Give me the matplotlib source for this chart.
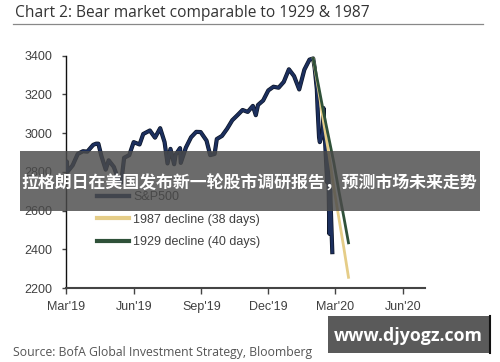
import matplotlib
matplotlib.use("Agg")
import matplotlib.pyplot as plt
import matplotlib.patheffects as pe
from matplotlib.patches import Rectangle
from matplotlib.lines import Line2D
import pandas as pd

# S&P 500 closes
spx_dates = [
    "2019-03-20", "2019-03-21", "2019-03-22", "2019-03-29", "2019-04-05", "2019-04-12",
    "2019-04-18", "2019-04-26", "2019-04-30", "2019-05-03", "2019-05-07", "2019-05-13",
    "2019-05-17", "2019-05-24", "2019-05-31", "2019-06-03", "2019-06-07", "2019-06-14",
    "2019-06-20", "2019-06-28", "2019-07-03", "2019-07-12", "2019-07-19", "2019-07-26",
    "2019-08-01", "2019-08-05", "2019-08-09", "2019-08-14", "2019-08-16", "2019-08-22",
    "2019-08-23", "2019-08-30", "2019-09-06", "2019-09-13", "2019-09-19", "2019-09-27",
    "2019-10-02", "2019-10-08", "2019-10-11", "2019-10-18", "2019-10-25", "2019-11-01",
    "2019-11-08", "2019-11-15", "2019-11-22", "2019-11-29", "2019-12-03", "2019-12-06",
    "2019-12-13", "2019-12-20", "2019-12-27", "2020-01-03", "2020-01-10", "2020-01-17",
    "2020-01-24", "2020-01-31", "2020-02-07", "2020-02-14", "2020-02-19", "2020-02-21",
    "2020-02-24", "2020-02-25", "2020-02-27", "2020-02-28", "2020-03-03", "2020-03-04",
    "2020-03-06", "2020-03-09", "2020-03-10", "2020-03-11", "2020-03-12", "2020-03-13",
    "2020-03-16",
]
spx_values = [
    2824, 2854, 2801, 2834, 2893, 2907,
    2905, 2940, 2946, 2946, 2884, 2812,
    2860, 2826, 2752, 2744, 2873, 2887,
    2954, 2942, 2996, 3014, 2977, 3026,
    2954, 2844, 2919, 2840, 2889, 2923,
    2847, 2926, 2979, 3007, 3006, 2962,
    2887, 2893, 2970, 2986, 3023, 3067,
    3093, 3120, 3110, 3141, 3093, 3146,
    3169, 3221, 3240, 3235, 3265, 3330,
    3295, 3226, 3328, 3380, 3386, 3338,
    3226, 3128, 2979, 2954, 3003, 3130,
    2972, 2747, 2882, 2741, 2481, 2711,
    2386,
]

# Historical declines overlaid from the Feb-2020 peak
decline_dates = ["2020-02-19", "2020-02-26", "2020-03-04", "2020-03-11",
                 "2020-03-18", "2020-03-25", "2020-04-01", "2020-04-07"]
decline_1987 = [3386, 3230, 3060, 2900, 2720, 2560, 2400, 2256]
decline_1929 = [3386, 3250, 3110, 2980, 2850, 2700, 2560, 2434]

tick_dates = ["2019-03-20", "2019-06-20", "2019-09-20", "2019-12-20", "2020-03-20", "2020-06-20"]
tick_labels = ["Mar'19", "Jun'19", "Sep'19", "Dec'19", "Mar'20", "Jun'20"]
y_ticks = [2200, 2400, 2600, 2800, 3000, 3200, 3400]

fig = plt.figure(figsize=(5, 3.62), dpi=100)
ax = fig.add_axes([0.132, 0.204, 0.718, 0.642])

navy = "#1c2f5e"
gold = "#e5cd88"
green = "#2f5139"

ax.plot(pd.to_datetime(spx_dates), spx_values, color=navy, lw=2.0,
        path_effects=[pe.Stroke(linewidth=3.0, foreground="#0d1626"), pe.Normal()],
        label="S&P500", zorder=3)
ax.plot(pd.to_datetime(decline_dates), decline_1987, color=gold, lw=2.0,
        label="1987 decline (38 days)", zorder=4)
ax.plot(pd.to_datetime(decline_dates), decline_1929, color=green, lw=2.0,
        label="1929 decline (40 days)", zorder=5)

ax.set_ylim(2200, 3400)
ax.set_xlim(pd.Timestamp("2019-03-20"), pd.Timestamp("2020-07-20"))
ax.set_yticks(y_ticks)
ax.set_xticks(pd.to_datetime(tick_dates))
ax.set_xticklabels(tick_labels)

for s in ["top", "right"]:
    ax.spines[s].set_visible(False)
ax.spines["left"].set_color("#111111")
ax.spines["left"].set_linewidth(1.0)
ax.spines["bottom"].set_color("#444444")
ax.spines["bottom"].set_linewidth(1.5)

ax.tick_params(axis="y", length=3, width=1, color="#444444", pad=7,
               labelsize=9, labelcolor="#404040")
ax.tick_params(axis="x", length=4, width=1, color="#444444", pad=5,
               labelsize=9, labelcolor="#404040")
for lab in ax.get_xticklabels() + ax.get_yticklabels():
    lab.set_fontfamily("Liberation Sans")

leg = ax.legend(loc="upper left", bbox_to_anchor=(0.086, 0.418), frameon=False,
                prop={"family": "Liberation Sans", "size": 9},
                handlelength=2.6, handletextpad=0.3, labelspacing=0.85,
                borderpad=0, borderaxespad=0)
for t in leg.get_texts():
    t.set_color("#404040")
for h in leg.get_lines():
    h.set_linewidth(3)

# title and rule
fig.text(0.03, 0.963, "Chart 2: Bear market comparable to 1929 & 1987",
         family="Open Sans", fontsize=11.2, color="#333333", va="center", ha="left")
fig.add_artist(Line2D([0.026, 0.966], [0.934, 0.934], transform=fig.transFigure,
                      color="#888888", lw=0.9))

fig.text(0.026, 0.027, "Source: BofA Global Investment Strategy, Bloomberg",
         family="Open Sans", fontsize=8.8, color="#555555", va="center", ha="left")

# watermark banner over the chart
fig.add_artist(Rectangle((0.04, 1 - 211 / 362), 0.92, 60 / 362, transform=fig.transFigure,
                         facecolor="#4a4a4a", alpha=0.82, edgecolor="none", zorder=10))
fig.text(0.498, 1 - 184 / 362, "拉格朗日在美国发布新一轮股市调研报告，预测市场未来走势",
         family=["Noto Sans CJK SC", "DejaVu Sans"], fontsize=12.2, fontweight="bold",
         color="white", ha="center", va="center", zorder=11)

# site box bottom right
fig.add_artist(Rectangle((328 / 500, 1 - 353 / 362), 162 / 500, 37 / 362,
                         transform=fig.transFigure, facecolor="#5a5a5a",
                         edgecolor="none", zorder=10))
fig.add_artist(Line2D([490 / 500, 490 / 500], [1 - 353 / 362, 1 - 316 / 362],
                      transform=fig.transFigure, color="#111111", lw=1.5, zorder=11))
fig.text(408 / 500, 1 - 336 / 362, "www.djyogz.com", family="Open Sans",
         fontsize=12.8, fontweight="bold", color="white", ha="center", va="center",
         zorder=12)

fig.savefig("out.png", dpi=100)
